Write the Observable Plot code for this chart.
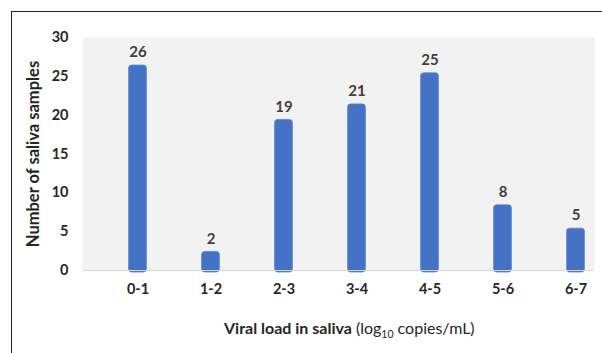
<!DOCTYPE html>
<html>
<head>
<meta charset="utf-8">
<script src="https://cdn.jsdelivr.net/npm/d3@7"></script>
<script src="https://cdn.jsdelivr.net/npm/@observablehq/plot@0.6"></script>
<style>
  body { margin: 0; background: #fff; }
  #wrap { position: relative; width: 602px; height: 353px; overflow: hidden; background: #fff; font-family: Lato, "Open Sans", sans-serif; }
  #border { position: absolute; left: 11px; top: 11px; width: 700px; height: 400px; border: 1.5px solid #222; }
  #chart { position: absolute; left: 0; top: 0; }
  #xlabel { position: absolute; left: 224px; top: 318px; font-size: 16px; color: #262626; white-space: nowrap; }
  #xlabel b { font-weight: 700; }
  #xlabel sub { font-size: 10.5px; }
</style>
</head>
<body>
<div id="wrap">
  <div id="border"></div>
  <div id="chart"></div>
  <div id="xlabel"><b>Viral load in saliva</b> (log<sub>10</sub> copies/mL)</div>
</div>
<script>
const categories = ["0-1", "1-2", "2-3", "3-4", "4-5", "5-6", "6-7"];
const counts = [26, 2, 19, 21, 25, 8, 5];
const yTicks = [0, 5, 10, 15, 20, 25, 30];
const yLabel = "Number of saliva samples";

const data = categories.map((c, i) => ({cat: c, n: counts[i]}));

const chart = Plot.plot({
  width: 602,
  height: 305,
  marginLeft: 82,
  marginRight: 8,
  marginTop: 37,
  marginBottom: 35,
  style: {fontFamily: "Lato, 'Open Sans', sans-serif", fontSize: "14.5px", color: "#262626", background: "transparent"},
  x: {domain: categories, range: [100.4, 612.9], padding: 0, label: null, tickSize: 0, tickPadding: 13},
  y: {domain: [0, 30], ticks: yTicks, label: null, tickSize: 0, tickPadding: 14},
  marks: [
    Plot.frame({fill: "#f2f2f2", stroke: null}),
    Plot.barY(data, {x: "cat", y: "n", fill: "#4472c4", stroke: "#5a85d2", strokeWidth: 0.8, insetLeft: 27.6, insetRight: 27.6, insetTop: -3, insetBottom: -2, rx: 3}),
    Plot.ruleY([0], {stroke: "#d6d6d6", strokeWidth: 1}),
    Plot.text(data, {x: "cat", y: "n", text: d => String(d.n), dy: -16, fontSize: 15, fontWeight: 700, fill: "#404040"}),
    Plot.text([yLabel], {frameAnchor: "left", textAnchor: "middle", rotate: -90, dx: -49, fontSize: 16.5, fontWeight: 700, fill: "#262626"})
  ]
});
chart.querySelectorAll("g[aria-label$='tick label']").forEach(g => { g.setAttribute("font-weight", "700"); g.setAttribute("fill", "#262626"); });
document.getElementById("chart").appendChild(chart);
</script>
</body>
</html>
